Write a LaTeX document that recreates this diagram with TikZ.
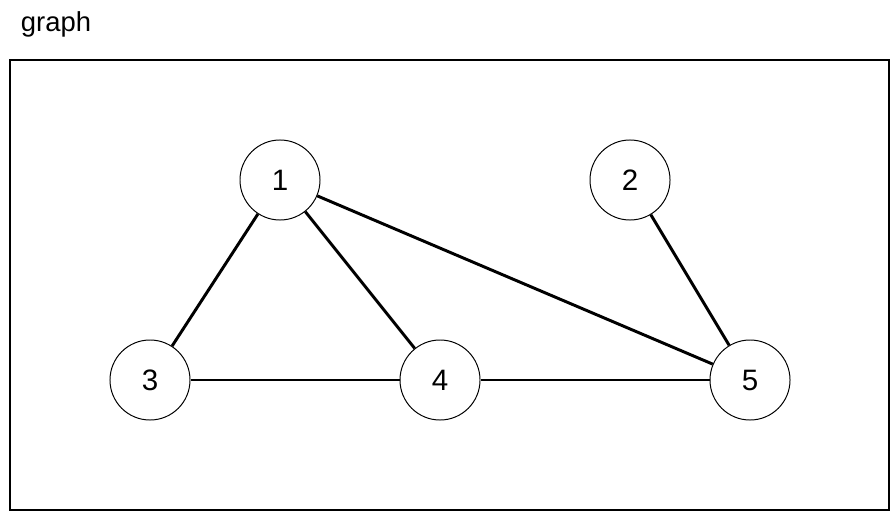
\documentclass[tikz,border=0pt]{standalone}
\usepackage{fontspec}
\setmainfont{Liberation Sans}

\begin{document}
\begin{tikzpicture}[x=0.025cm,y=-0.025cm,
	vertex/.style={draw,circle,minimum size=2cm,inner sep=0pt,line width=0.7pt,font=\fontsize{21}{25}\selectfont},
	edge/.style={line width=2.1pt}]
	\useasboundingbox (0,0) rectangle (892,512);
	\node[anchor=base west,font=\fontsize{19.5}{24}\selectfont] (title) at (16,32) {graph};
	\draw[line width=0.9pt] (10,60) rectangle (889,510);
	\node[vertex] (v1) at (280,180) {1};
	\node[vertex] (v2) at (630,180) {2};
	\node[vertex] (v3) at (150,380) {3};
	\node[vertex] (v4) at (440,380) {4};
	\node[vertex] (v5) at (750,380) {5};
	\foreach \a/\b in {1/3,1/4,1/5,2/5,3/4,4/5} {
		\draw[edge] (v\a) -- (v\b);
	}
\end{tikzpicture}
\end{document}
